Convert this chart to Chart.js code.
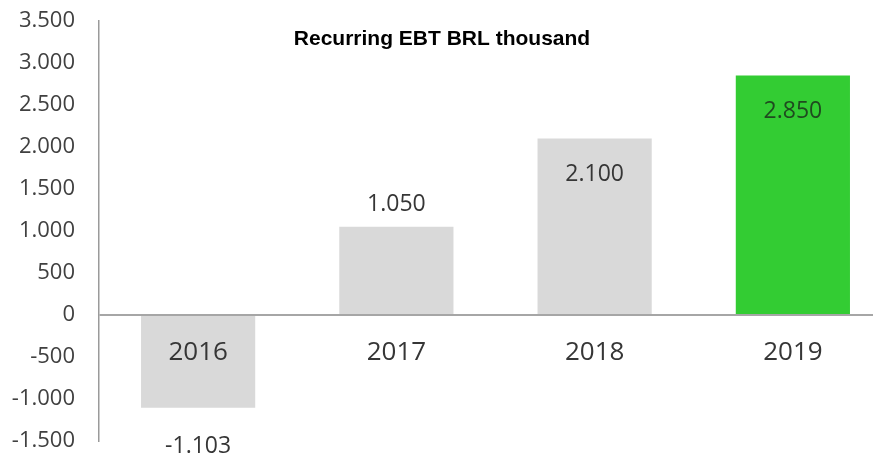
<!DOCTYPE html>
<html>
<head>
<meta charset="utf-8">
<script src="https://cdn.jsdelivr.net/npm/chart.js@4"></script>
<style>
  html, body { margin: 0; padding: 0; background: #fff; overflow: hidden; }
  #wrap { width: 892px; height: 454px; position: relative; }
</style>
</head>
<body>
<div id="wrap"><canvas id="ebtChart"></canvas></div>
<script>
// Recurring EBT, BRL thousand
const years = ['2016', '2017', '2018', '2019'];
const ebtValues = [-1103, 1050, 2100, 2850];
const yTicks = [-1500, -1000, -500, 0, 500, 1000, 1500, 2000, 2500, 3000, 3500];
const chartTitle = 'Recurring EBT BRL thousand';

const GRAY = '#d9d9d9';
const GREEN = '#33cc33';
const TEXT = '#363636';
const FONT = "'Open Sans', sans-serif";

// where each value label sits relative to its bar
const labelPlacement = ['below', 'above', 'inside', 'inside'];

// 3500 -> "3.500"
function fmt(v) {
    const s = String(Math.abs(v)).replace(/\B(?=(\d{3})+(?!\d))/g, '.');
    return (v < 0 ? '-' : '') + s;
}

const annotations = {
    id: 'annotations',
    afterDatasetsDraw(chart) {
        const { ctx } = chart;
        const y = chart.scales.y;
        const meta = chart.getDatasetMeta(0);
        const zero = y.getPixelForValue(0);

        ctx.save();
        // title
        ctx.font = "bold 21px 'Liberation Sans', Arial, sans-serif";
        ctx.fillStyle = '#000';
        ctx.textAlign = 'center';
        ctx.textBaseline = 'alphabetic';
        ctx.fillText(chartTitle, 442, 45);

        ctx.textBaseline = 'middle';
        meta.data.forEach((bar, i) => {
            // year under the zero line
            ctx.fillStyle = TEXT;
            ctx.font = '26px ' + FONT;
            ctx.fillText(years[i], bar.x, zero + 38);

            // value
            const v = ebtValues[i];
            const end = y.getPixelForValue(v);
            let ly;
            if (labelPlacement[i] === 'below') ly = end + 39;
            else if (labelPlacement[i] === 'above') ly = end - 22;
            else ly = end + 36;
            ctx.fillStyle = i === ebtValues.length - 1 ? '#1f4a1f' : TEXT;
            ctx.font = '23px ' + FONT;
            ctx.fillText(fmt(v), bar.x, ly);
        });
        ctx.restore();
    }
};

new Chart(document.getElementById('ebtChart'), {
    type: 'bar',
    data: {
        labels: years,
        datasets: [{
            data: ebtValues,
            backgroundColor: ebtValues.map((v, i) => i === ebtValues.length - 1 ? GREEN : GRAY),
            borderWidth: 0,
            barPercentage: 0.576,
            categoryPercentage: 1
        }]
    },
    options: {
        responsive: true,
        maintainAspectRatio: false,
        animation: false,
        layout: { padding: { top: 21, bottom: 13, left: 0, right: 0 } },
        plugins: {
            legend: { display: false },
            title: { display: false },
            tooltip: { enabled: false }
        },
        scales: {
            x: { display: false },
            y: {
                min: yTicks[0],
                max: yTicks[yTicks.length - 1],
                z: 1,
                afterBuildTicks: (scale) => { scale.ticks = yTicks.map(v => ({ value: v })); },
                afterFit: (scale) => {
                    scale.width = 99;
                    scale.paddingTop = 0;
                    scale.paddingBottom = 0;
                },
                ticks: {
                    padding: 24,
                    color: '#404040',
                    font: { family: FONT, size: 22 },
                    callback: (v) => fmt(v)
                },
                grid: {
                    drawTicks: false,
                    lineWidth: 2,
                    color: (c) => c.tick && c.tick.value === 0 ? '#a6a6a6' : 'transparent'
                },
                border: { display: true, color: '#9a9a9a', width: 1.5 }
            }
        }
    },
    plugins: [annotations]
});
</script>
</body>
</html>
